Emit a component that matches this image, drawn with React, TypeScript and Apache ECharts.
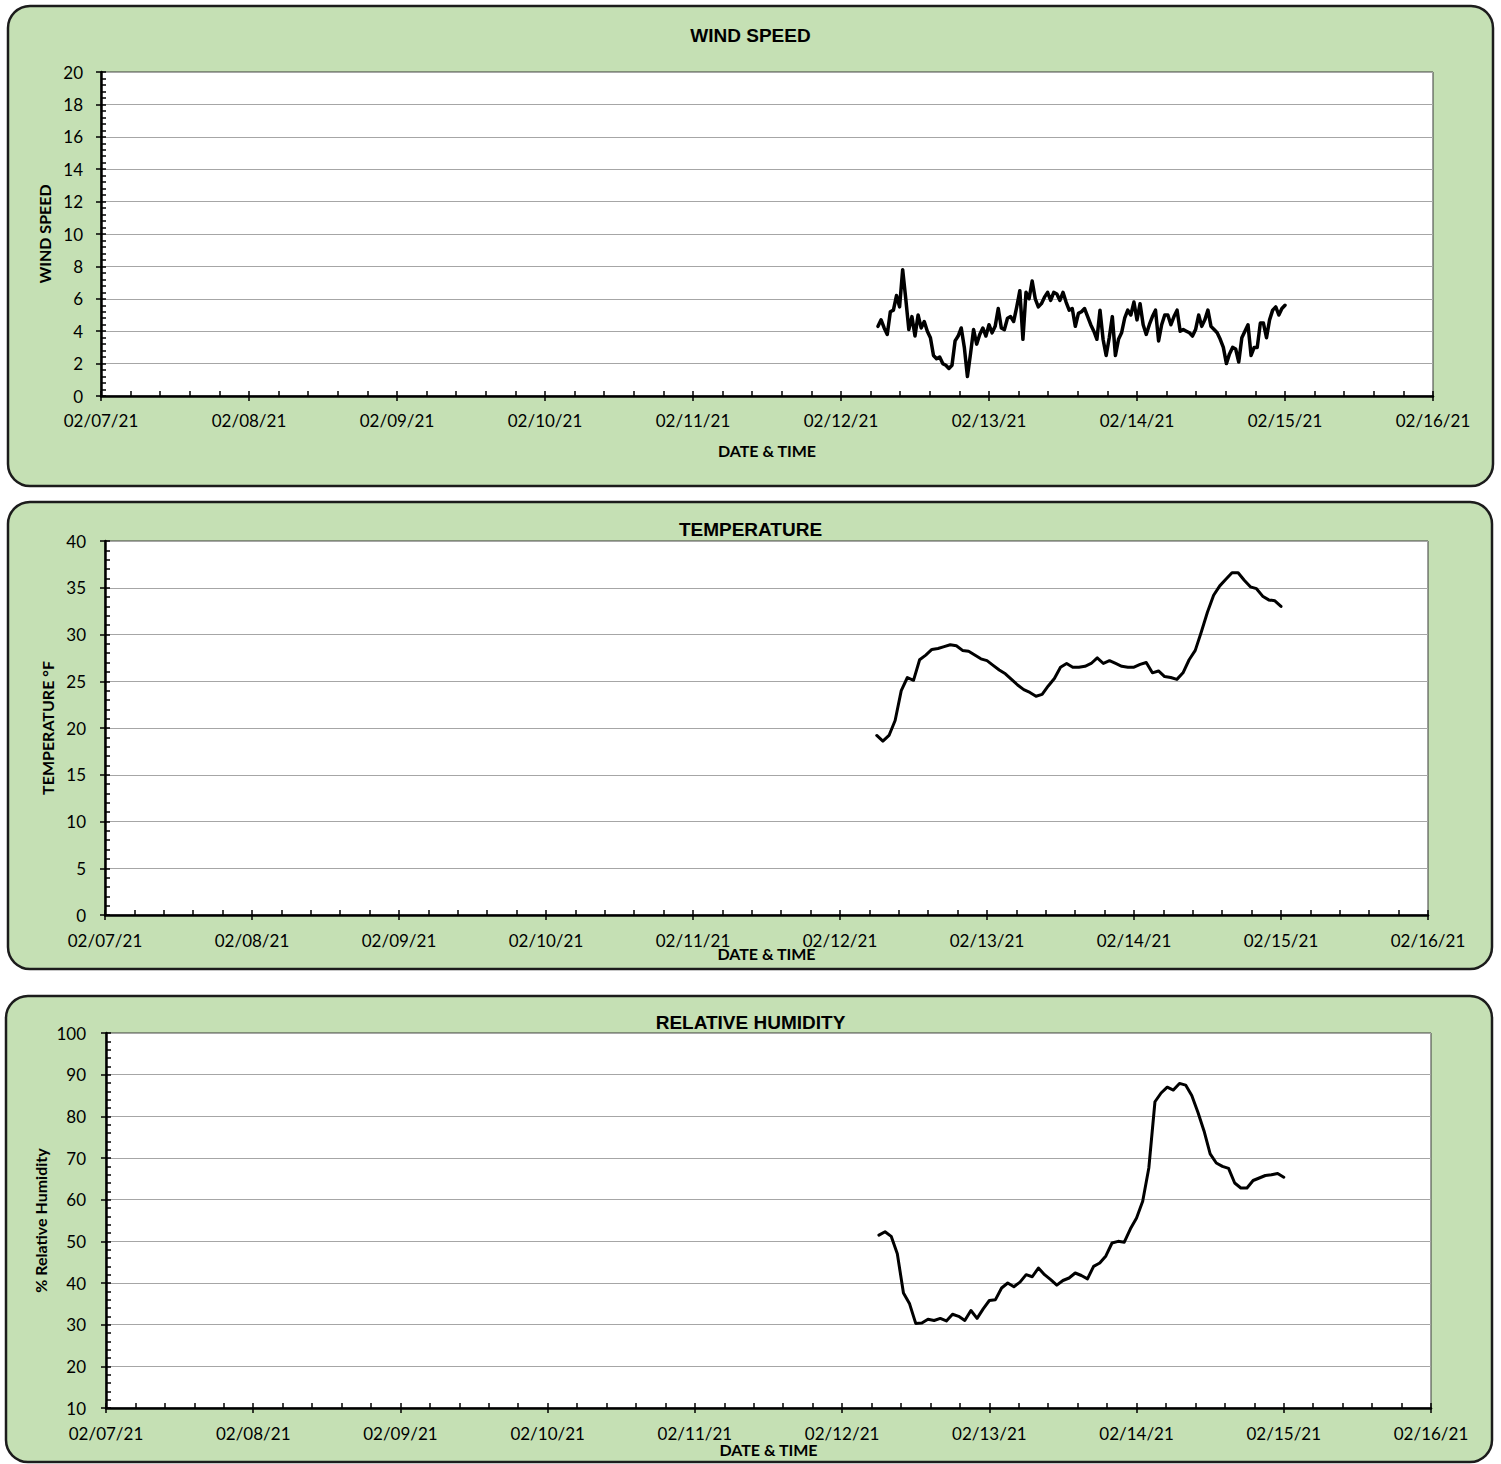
import { useEffect, useRef } from "react";
import * as echarts from "echarts";

// X axis: days from 02/07/21 00:00
const xTickLabels = [
  "02/07/21", "02/08/21", "02/09/21", "02/10/21", "02/11/21",
  "02/12/21", "02/13/21", "02/14/21", "02/15/21", "02/16/21",
];
const seriesStartDay = 5.25; // 02/12/21 06:00

const windStepHours = 0.5;
const windSpeed = [
  4.3, 4.7, 4.2, 3.8, 5.2, 5.3, 6.2, 5.5, 7.8, 6.0,
  4.1, 4.9, 3.7, 5.0, 4.2, 4.6, 4.0, 3.6, 2.5, 2.3,
  2.4, 2.0, 1.9, 1.7, 1.9, 3.4, 3.7, 4.2, 3.0, 1.2,
  2.6, 4.1, 3.2, 3.8, 4.2, 3.7, 4.4, 3.9, 4.3, 5.4,
  4.2, 4.1, 4.8, 4.9, 4.6, 5.5, 6.5, 3.5, 6.4, 6.0,
  7.1, 6.0, 5.5, 5.7, 6.1, 6.4, 5.9, 6.4, 6.3, 5.9,
  6.4, 5.8, 5.3, 5.4, 4.3, 5.1,
  5.2, 5.4, 4.9, 4.4, 4.0, 3.5, 5.3, 3.5, 2.5, 3.6,
  4.9, 2.5, 3.5, 3.9, 4.8, 5.3, 5.0, 5.8, 4.7, 5.7,
  4.4, 3.8, 4.4, 4.9, 5.3, 3.4, 4.4, 5.0, 5.0, 4.4,
  4.9, 5.3, 4.0, 4.1, 4.0, 3.9, 3.7, 4.1, 5.0, 4.3,
  4.7, 5.3, 4.3, 4.1, 3.9, 3.5, 3.0, 2.0, 2.6, 3.0,
  2.9, 2.1, 3.6, 4.0, 4.4, 2.5, 3.0, 3.0, 4.5, 4.5,
  3.6, 4.7, 5.3, 5.5, 5.0, 5.4, 5.6,
];

const tempStepHours = 1;
const temperature = [
  19.2, 18.6, 19.2, 20.8, 24.0, 25.4, 25.1, 27.3, 27.8, 28.4,
  28.5, 28.7, 28.9, 28.8, 28.3, 28.2, 27.8, 27.4, 27.2, 26.7,
  26.2, 25.8, 25.2, 24.6, 24.1, 23.8, 23.4, 23.6, 24.5, 25.3,
  26.5, 26.9, 26.5, 26.5, 26.6, 26.9, 27.5, 26.9, 27.2, 26.9,
  26.6, 26.5, 26.5, 26.8, 27.0, 25.9, 26.1, 25.5, 25.4, 25.2,
  25.9, 27.3, 28.3, 30.3, 32.4, 34.2, 35.2, 35.9, 36.6, 36.6,
  35.8, 35.1, 34.9, 34.1, 33.7, 33.6, 33.0,
];

const humidityStepHours = 1;
const humidity = [
  51.5, 52.3, 51.2, 47.0, 37.6, 35.0, 30.3, 30.4, 31.3, 31.0,
  31.5, 30.9, 32.5, 32.0, 31.0, 33.4, 31.5, 33.8, 35.8, 36.0,
  38.8, 40.0, 39.1, 40.2, 42.0, 41.5, 43.6, 42.0, 40.8, 39.5,
  40.6, 41.2, 42.4, 41.8, 41.0, 44.0, 44.8, 46.5, 49.6, 50.0,
  49.8, 53.0, 55.6, 59.6, 67.6, 83.5, 85.6, 87.0, 86.3, 87.9,
  87.5, 85.0, 81.0, 76.5, 71.0, 68.8, 68.0, 67.5, 64.0, 62.8,
  62.8, 64.6, 65.2, 65.8, 66.0, 66.3, 65.4,
];

const toPairs = (vals: number[], stepHours: number) =>
  vals.map((v, i) => [seriesStartDay + (i * stepHours) / 24, v]);

const TICK_FONT = "Lato";
const GREEN = "#c5e0b4";

type PanelDef = {
  title: string;
  titleTop: number;
  yName: string;
  yMin: number;
  yMax: number;
  yInterval: number;
  rect: { left: number; top: number; width: number; height: number };
  xNameGap: number;
  xLabelMargin: number;
  yNameGap: number;
  yLabelMargin: number;
  data: number[][];
  lineWidth: number;
  box: { x: number; y: number; w: number; h: number };
};

const panels: PanelDef[] = [
  {
    title: "WIND SPEED",
    titleTop: 26,
    yName: "WIND SPEED",
    yMin: 0,
    yMax: 20,
    yInterval: 2,
    rect: { left: 101, top: 72, width: 1332, height: 324 },
    xNameGap: 46,
    xLabelMargin: 16,
    yNameGap: 49,
    yLabelMargin: 18,
    data: toPairs(windSpeed, windStepHours),
    lineWidth: 3.5,
    box: { x: 8, y: 6, w: 1485, h: 480 },
  },
  {
    title: "TEMPERATURE",
    titleTop: 520,
    yName: "TEMPERATURE °F",
    yMin: 0,
    yMax: 40,
    yInterval: 5,
    rect: { left: 105, top: 541, width: 1323, height: 374 },
    xNameGap: 30,
    xLabelMargin: 17,
    yNameGap: 50,
    yLabelMargin: 19,
    data: toPairs(temperature, tempStepHours),
    lineWidth: 3,
    box: { x: 8, y: 502, w: 1484, h: 467 },
  },
  {
    title: "RELATIVE HUMIDITY",
    titleTop: 1013,
    yName: "% Relative Humidity",
    yMin: 10,
    yMax: 100,
    yInterval: 10,
    rect: { left: 106, top: 1033, width: 1325, height: 375 },
    xNameGap: 33,
    xLabelMargin: 17,
    yNameGap: 58,
    yLabelMargin: 20,
    data: toPairs(humidity, humidityStepHours),
    lineWidth: 3,
    box: { x: 6, y: 996, w: 1486, h: 466 },
  },
];

function buildOption() {
  const grid: any[] = [];
  const xAxis: any[] = [];
  const yAxis: any[] = [];
  const series: any[] = [];
  const title: any[] = [];
  const elements: any[] = [];

  panels.forEach((p, i) => {
    const mainIdx = i * 2;
    const overIdx = i * 2 + 1;
    elements.push({
      type: "rect",
      z: -10,
      shape: { x: p.box.x, y: p.box.y, width: p.box.w, height: p.box.h, r: 22 },
      style: { fill: GREEN, stroke: "#1c1c1c", lineWidth: 2.5 },
    });
    title.push({
      text: p.title,
      left: "center",
      top: p.titleTop,
      padding: 0,
      textStyle: {
        fontFamily: "Liberation Sans",
        fontWeight: "bold",
        fontSize: 19,
        color: "#000",
      },
    });
    grid.push({
      ...p.rect,
      show: true,
      backgroundColor: "#ffffff",
      borderColor: "#3a3a3a",
      borderWidth: 1,
      containLabel: false,
    });
    grid.push({ ...p.rect, show: false, containLabel: false });

    // main x axis (outer tick halves + labels)
    xAxis.push({
      type: "value",
      gridIndex: mainIdx,
      min: 0,
      max: 9,
      interval: 1,
      name: "DATE & TIME",
      nameLocation: "middle",
      nameGap: p.xNameGap,
      nameMoveOverlap: false,
      nameTextStyle: {
        fontFamily: TICK_FONT,
        fontWeight: "bold",
        fontSize: 16,
        color: "#000",
      },
      axisLine: { show: true, onZero: false, lineStyle: { color: "#000", width: 2.5 } },
      axisTick: { show: true, inside: false, length: 5, lineStyle: { color: "#000", width: 1.5 } },
      minorTick: { show: false },
      splitLine: { show: false },
      axisLabel: {
        show: true,
        margin: p.xLabelMargin,
        fontFamily: TICK_FONT,
        fontSize: 17,
        color: "#000",
        showMinLabel: true,
        showMaxLabel: true,
        formatter: (v: number) => xTickLabels[Math.round(v)] ?? "",
      },
    });
    // overlay x axis (inner ticks + minor ticks)
    xAxis.push({
      type: "value",
      gridIndex: overIdx,
      min: 0,
      max: 9,
      interval: 1,
      axisLine: { show: false, onZero: false },
      axisTick: { show: true, inside: true, length: 5, lineStyle: { color: "#000", width: 1.5 } },
      minorTick: { show: true, splitNumber: 5, length: 5, lineStyle: { color: "#000", width: 1.5 } },
      splitLine: { show: false },
      axisLabel: { show: false },
    });

    yAxis.push({
      type: "value",
      gridIndex: mainIdx,
      min: p.yMin,
      max: p.yMax,
      interval: p.yInterval,
      name: p.yName,
      nameLocation: "middle",
      nameGap: p.yNameGap,
      nameMoveOverlap: false,
      nameTextStyle: {
        fontFamily: TICK_FONT,
        fontWeight: "bold",
        fontSize: 16,
        color: "#000",
      },
      axisLine: { show: true, onZero: false, lineStyle: { color: "#000", width: 2.5 } },
      axisTick: { show: true, inside: false, length: 5, lineStyle: { color: "#000", width: 1.5 } },
      minorTick: { show: false },
      splitLine: { show: true, lineStyle: { color: "#a6a6a6", width: 1 } },
      axisLabel: {
        show: true,
        margin: p.yLabelMargin,
        fontFamily: TICK_FONT,
        fontSize: 17,
        color: "#000",
      },
    });
    yAxis.push({
      type: "value",
      gridIndex: overIdx,
      min: p.yMin,
      max: p.yMax,
      interval: p.yInterval,
      axisLine: { show: false, onZero: false },
      axisTick: { show: true, inside: true, length: 5, lineStyle: { color: "#000", width: 1.5 } },
      minorTick: { show: true, splitNumber: 5, length: 5, lineStyle: { color: "#000", width: 1.5 } },
      splitLine: { show: false },
      axisLabel: { show: false },
    });

    series.push({
      type: "line",
      xAxisIndex: mainIdx,
      yAxisIndex: mainIdx,
      data: p.data,
      showSymbol: false,
      symbol: "none",
      smooth: false,
      lineStyle: { color: "#000", width: p.lineWidth, join: "round", cap: "round" },
      z: 3,
    });
  });

  return {
    animation: false,
    backgroundColor: "#ffffff",
    title,
    grid,
    xAxis,
    yAxis,
    series,
    graphic: { elements },
  };
}

export default function App() {
  const ref = useRef<HTMLDivElement>(null);
  useEffect(() => {
    if (!ref.current) return;
    const chart = echarts.init(ref.current, undefined, { renderer: "svg" });
    chart.setOption(buildOption() as any);
    return () => chart.dispose();
  }, []);
  return (
    <div
      ref={ref}
      style={{ position: "absolute", left: 0, top: 0, width: 1501, height: 1464 }}
    />
  );
}
